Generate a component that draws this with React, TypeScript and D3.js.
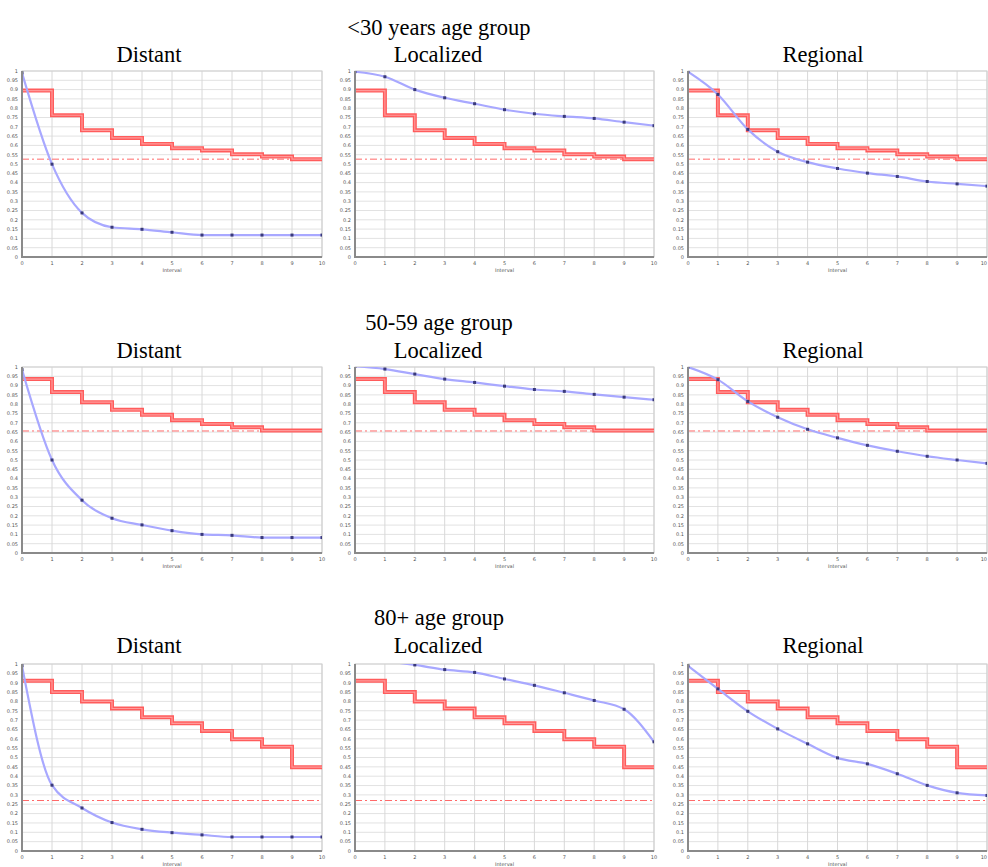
import React from "react";
import * as d3 from "d3";

const intervals = [0, 1, 2, 3, 4, 5, 6, 7, 8, 9, 10];
const rowTitles = ["<30 years age group", "50-59 age group", "80+ age group"];
const stageNames = ["Distant", "Localized", "Regional"];
const yTickValues = [0, 0.05, 0.1, 0.15, 0.2, 0.25, 0.3, 0.35, 0.4, 0.45, 0.5, 0.55, 0.6, 0.65, 0.7, 0.75, 0.8, 0.85, 0.9, 0.95, 1];
const xAxisLabel = "Interval";

// blue curves (observed survival by stage)
const u30Distant = [0.99, 0.499, 0.237, 0.16, 0.149, 0.133, 0.118, 0.118, 0.118, 0.118, 0.118];
const u30Localized = [0.996, 0.969, 0.9, 0.856, 0.824, 0.792, 0.77, 0.756, 0.745, 0.725, 0.706];
const u30Regional = [0.996, 0.874, 0.686, 0.566, 0.51, 0.476, 0.451, 0.433, 0.406, 0.393, 0.381];
const a50Distant = [0.986, 0.5, 0.284, 0.187, 0.151, 0.12, 0.1, 0.095, 0.083, 0.083, 0.083];
const a50Localized = [1.004, 0.989, 0.962, 0.935, 0.917, 0.897, 0.879, 0.869, 0.853, 0.838, 0.824];
const a50Regional = [1.0, 0.932, 0.815, 0.73, 0.665, 0.619, 0.579, 0.547, 0.52, 0.5, 0.482];
const a80Distant = [0.991, 0.352, 0.23, 0.152, 0.116, 0.098, 0.086, 0.075, 0.075, 0.075, 0.075];
const a80Localized = [1.03, 1.015, 0.995, 0.97, 0.955, 0.92, 0.886, 0.846, 0.805, 0.758, 0.584];
const a80Regional = [0.99, 0.867, 0.747, 0.653, 0.573, 0.498, 0.466, 0.413, 0.351, 0.311, 0.297];

// red step curves (per age group)
const redU30 = [0.895, 0.762, 0.681, 0.64, 0.608, 0.585, 0.573, 0.552, 0.54, 0.526];
const red50 = [0.935, 0.865, 0.811, 0.77, 0.743, 0.714, 0.694, 0.676, 0.658, 0.658];
const red80 = [0.91, 0.85, 0.8, 0.762, 0.715, 0.683, 0.642, 0.597, 0.558, 0.448];

// dash-dot reference levels
const refLevels = [0.526, 0.656, 0.27];

const blueSeries = [
  [u30Distant, u30Localized, u30Regional],
  [a50Distant, a50Localized, a50Regional],
  [a80Distant, a80Localized, a80Regional],
];
const redSeries = [redU30, red50, red80];

// layout
const rowTops = [71, 367, 664];
const rowBottoms = [257, 553, 851];
const colLefts = [22, 355, 688];
const colRights = [322, 654, 987];
const titleY = [35, 330, 625];
const subY = [62, 358, 653];
const colCenters = [149, 438, 823];

function Panel({ r, c }: { r: number; c: number }) {
  const x = d3.scaleLinear().domain([0, 10]).range([colLefts[c], colRights[c]]);
  const y = d3.scaleLinear().domain([0, 1]).range([rowBottoms[r], rowTops[r]]);
  const blue = blueSeries[r][c];
  const red = redSeries[r];
  const clipId = `clip-${r}-${c}`;

  const blueLine = d3
    .line<number>()
    .x((_, i) => x(intervals[i]))
    .y((d) => y(d))
    .curve(d3.curveMonotoneX)(blue) as string;

  const redPts: [number, number][] = red.map((v, i) => [intervals[i], v]);
  redPts.push([10, red[red.length - 1]]);
  const redLine = d3
    .line<[number, number]>()
    .x((d) => x(d[0]))
    .y((d) => y(d[1]))
    .curve(d3.curveStepAfter)(redPts) as string;

  const x0 = x(0), x1 = x(10), y0 = y(0), y1 = y(1);
  return (
    <g>
      <defs>
        <clipPath id={clipId}>
          <rect x={x0} y={y1} width={x1 - x0} height={y0 - y1} />
        </clipPath>
      </defs>
      {yTickValues.map((t) => (
        <line key={"h" + t} x1={x0} x2={x1} y1={y(t)} y2={y(t)} stroke="#e2e2e2" strokeWidth={1} />
      ))}
      {intervals.map((t) => (
        <line key={"v" + t} x1={x(t)} x2={x(t)} y1={y1} y2={y0} stroke="#d8d8d8" strokeWidth={1} />
      ))}
      <rect x={x0} y={y1} width={x1 - x0} height={y0 - y1} fill="none" stroke="#cfcfcf" strokeWidth={1} />
      <g clipPath={`url(#${clipId})`}>
        <line
          x1={x0}
          x2={x1}
          y1={y(refLevels[r])}
          y2={y(refLevels[r])}
          stroke="#ff6a6a"
          strokeWidth={1}
          strokeDasharray="7,3,2,3"
        />
        <path d={redLine} fill="none" stroke="#ff5c5c" strokeWidth={4} />
        <path d={redLine} fill="none" stroke="#ff9a9a" strokeWidth={1.2} />
        <path d={blueLine} fill="none" stroke="#a8a8ff" strokeWidth={2.2} />
        {blue.map((v, i) => (
          <rect key={i} x={x(intervals[i]) - 1.5} y={y(v) - 1.5} width={3} height={3} fill="#3a3a7a" />
        ))}
      </g>
      <line x1={x0} x2={x0} y1={y1} y2={y0 + 1} stroke="#8a8a8a" strokeWidth={2} />
      <line x1={x0 - 1} x2={x1} y1={y0} y2={y0} stroke="#8a8a8a" strokeWidth={2} />
      {yTickValues.map((t) => (
        <text
          key={"yl" + t}
          x={x0 - 4}
          y={y(t) + 1.8}
          textAnchor="end"
          fontSize={5}
          fill="#555"
          fontFamily="DejaVu Sans, sans-serif"
        >
          {d3.format("~g")(t)}
        </text>
      ))}
      {intervals.map((t) => {
        const atEdge = x(t) + 4 > 988;
        return (
          <text
            key={"xl" + t}
            x={atEdge ? 987 : x(t)}
            y={y0 + 8}
            textAnchor={atEdge ? "end" : "middle"}
            fontSize={5}
            fill="#555"
            fontFamily="DejaVu Sans, sans-serif"
          >
            {t}
          </text>
        );
      })}
      <text
        x={(x0 + x1) / 2}
        y={y0 + 15}
        textAnchor="middle"
        fontSize={5}
        fill="#555"
        fontFamily="DejaVu Sans, sans-serif"
      >
        {xAxisLabel}
      </text>
    </g>
  );
}

export default function App() {
  return (
    <svg
      width={988}
      height={867}
      style={{ position: "absolute", left: 0, top: 0, background: "#fff" }}
    >
      <rect width={988} height={867} fill="#fff" />
      {rowTitles.map((t, r) => (
        <g key={r}>
          <text
            x={439}
            y={titleY[r]}
            textAnchor="middle"
            fontSize={22.5}
            fontFamily="Liberation Serif, serif"
            fill="#000"
          >
            {t}
          </text>
          {stageNames.map((s, c) => (
            <text
              key={s}
              x={colCenters[c]}
              y={subY[r]}
              textAnchor="middle"
              fontSize={22.5}
              fontFamily="Liberation Serif, serif"
              fill="#000"
            >
              {s}
            </text>
          ))}
          {stageNames.map((s, c) => (
            <Panel key={"p" + c} r={r} c={c} />
          ))}
        </g>
      ))}
    </svg>
  );
}
